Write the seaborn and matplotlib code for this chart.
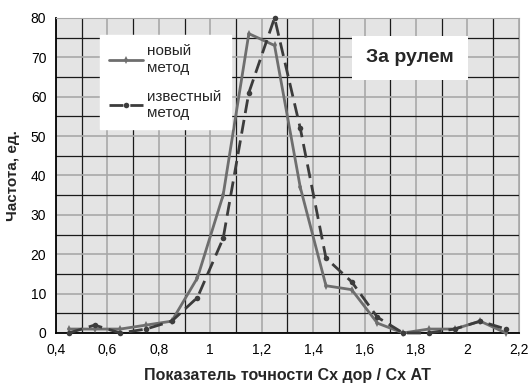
import pandas as pd
import matplotlib
matplotlib.use("Agg")
import matplotlib.pyplot as plt
from matplotlib.ticker import MultipleLocator, FuncFormatter
import seaborn as sns

# Данные
x_vals = [0.45, 0.55, 0.65, 0.75, 0.85, 0.95, 1.05, 1.15, 1.25, 1.35,
          1.45, 1.55, 1.65, 1.75, 1.85, 1.95, 2.05, 2.15]
novyi = [1, 1, 1, 2, 3, 14, 35, 76, 73, 37, 12, 11, 2.5, 0, 1, 1, 3, 0]
izvestnyi = [0, 2, 0, 1, 3, 9, 24, 61, 80, 52, 19, 13, 4, 0, 0, 1, 3, 1]

df = pd.DataFrame({"x": x_vals, "novyi": novyi, "izvestnyi": izvestnyi})

sns.set_style("white", {"axes.facecolor": "#e4e4e4"})
plt.rcParams["font.family"] = ["Liberation Sans", "DejaVu Sans"]

fig = plt.figure(figsize=(5.31, 3.89), dpi=100)
ax = fig.add_axes([0.1055, 0.144, 0.8715, 0.81])

sns.lineplot(data=df, x="x", y="novyi", ax=ax, color="#6e6e6e", lw=2,
             marker="d", markersize=4, markeredgewidth=0, clip_on=False,
             label="новый\nметод", zorder=4)
sns.lineplot(data=df, x="x", y="izvestnyi", ax=ax, color="#3c3c3c", lw=2,
             linestyle=(0, (5, 2.5)), marker="o", markersize=4,
             markeredgewidth=0, clip_on=False, label="известный\nметод", zorder=5)

ax.set_xlim(0.4, 2.2)
ax.set_ylim(0, 80)
ax.xaxis.set_major_locator(MultipleLocator(0.2))
ax.xaxis.set_minor_locator(MultipleLocator(0.2, offset=0.1))
ax.yaxis.set_major_locator(MultipleLocator(10))
ax.yaxis.set_minor_locator(MultipleLocator(10, offset=5))
ax.xaxis.set_major_formatter(FuncFormatter(lambda v, p: f"{v:g}".replace(".", ",")))
ax.grid(which="major", color="#a8a8a8", lw=1.2)
ax.grid(which="minor", color="#1a1a1a", lw=0.9)
ax.set_axisbelow(True)
ax.tick_params(which="both", length=0, labelsize=10, pad=7, colors="black")

for s in ["top", "right"]:
    ax.spines[s].set_color("#a8a8a8")
for s in ["left", "bottom"]:
    ax.spines[s].set_color("black")
    ax.spines[s].set_linewidth(1.3)

ax.set_xlabel("Показатель точности Сх дор / Сх АТ", fontsize=11.5, fontweight="bold", labelpad=8)
ax.set_ylabel("Частота, ед.", fontsize=11, fontweight="bold", labelpad=8)

leg = ax.legend(loc="upper left", bbox_to_anchor=(0.095, 0.945), fontsize=11,
                frameon=True, fancybox=False, framealpha=1, facecolor="white",
                edgecolor="white", handlelength=2.2, handletextpad=0.3,
                labelspacing=1.0, borderpad=0.6, borderaxespad=0)

ax.text(0.765, 0.873, "За рулем", transform=ax.transAxes, fontsize=14,
        fontweight="bold", ha="center", va="center",
        bbox=dict(facecolor="white", edgecolor="none", pad=10))

fig.savefig("out.png", dpi=100)
